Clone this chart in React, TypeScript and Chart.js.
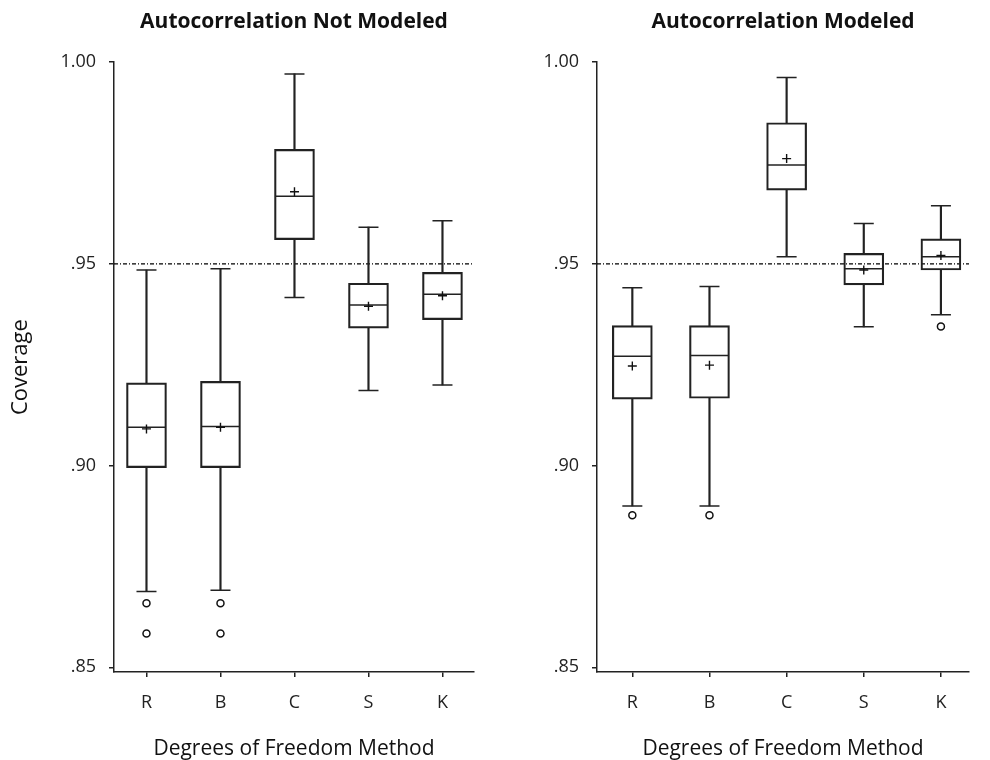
import React, { useEffect, useRef } from "react";
import { Chart, registerables } from "chart.js";
Chart.register(...registerables);

const methods = ["R", "B", "C", "S", "K"];
const yTickValues = [0.85, 0.9, 0.95, 1.0];
const yTickLabels = [".85", ".90", ".95", "1.00"];
const referenceCoverage = 0.95;
const xTitle = "Degrees of Freedom Method";
const yTitle = "Coverage";

// Autocorrelation Not Modeled
const nmTitle = "Autocorrelation Not Modeled";
const nmLower = [0.8688, 0.8691, 0.9417, 0.9186, 0.92];
const nmQ1 = [0.8995, 0.8995, 0.956, 0.9341, 0.9362];
const nmMedian = [0.9095, 0.9097, 0.9668, 0.9398, 0.9425];
const nmQ3 = [0.9205, 0.9209, 0.9784, 0.9452, 0.9479];
const nmUpper = [0.9485, 0.9488, 0.9971, 0.9591, 0.9607];
const nmMean = [0.9091, 0.9095, 0.9679, 0.9395, 0.9421];
const nmOutliers = [[0.8659, 0.8584], [0.8659, 0.8584], [], [], []];

// Autocorrelation Modeled
const mTitle = "Autocorrelation Modeled";
const mLower = [0.89, 0.89, 0.9518, 0.9344, 0.9374];
const mQ1 = [0.9165, 0.9167, 0.9683, 0.9448, 0.9485];
const mMedian = [0.9271, 0.9273, 0.9745, 0.9488, 0.9518];
const mQ3 = [0.9347, 0.9347, 0.985, 0.9526, 0.9562];
const mUpper = [0.9441, 0.9444, 0.9962, 0.96, 0.9644];
const mMean = [0.9247, 0.9249, 0.9761, 0.9485, 0.9521];
const mOutliers = [[0.8877], [0.8877], [], [], [0.9345]];

const FONT = "'Open Sans', 'Noto Sans', sans-serif";
const INK = "#222";

type PanelProps = {
  title: string;
  lower: number[];
  q1: number[];
  median: number[];
  q3: number[];
  upper: number[];
  mean: number[];
  outliers: number[][];
  xMin: number;
  xMax: number;
  yAxisWidth: number;
  padRight: number;
  showYTitle: boolean;
};

function Panel(p: PanelProps) {
  const ref = useRef<HTMLCanvasElement | null>(null);
  useEffect(() => {
    if (!ref.current) return;
    const pts = (vals: number[]) => vals.map((v, i) => ({ x: i + 1, y: v }));
    const ranges = (a: number[], b: number[]) => a.map((v, i) => ({ x: i + 1, y: [v, b[i]] }));
    const outlierPts: { x: number; y: number }[] = [];
    p.outliers.forEach((arr, i) => arr.forEach((v) => outlierPts.push({ x: i + 1, y: v })));
    const yMin = 0.84884;
    const yMax = 1.0;

    const chart = new Chart(ref.current, {
      type: "bar",
      data: {
        datasets: [
          {
            type: "line",
            data: [
              { x: p.xMin, y: referenceCoverage },
              { x: p.xMax, y: referenceCoverage },
            ],
            borderColor: "#000",
            borderWidth: 1.3,
            borderDash: [4, 2, 1, 2],
            pointRadius: 0,
            order: 10,
          } as any,
          {
            type: "bar",
            data: ranges(p.lower, p.q1),
            backgroundColor: INK,
            borderWidth: 0,
            barThickness: 1.5,
            grouped: false,
            order: 5,
          } as any,
          {
            type: "bar",
            data: ranges(p.q3, p.upper),
            backgroundColor: INK,
            borderWidth: 0,
            barThickness: 1.5,
            grouped: false,
            order: 5,
          } as any,
          {
            type: "bar",
            data: ranges(p.q1, p.q3),
            backgroundColor: "rgba(0,0,0,0)",
            borderColor: INK,
            borderWidth: 1.5,
            borderSkipped: false,
            barThickness: 40,
            grouped: false,
            order: 4,
          } as any,
          {
            type: "scatter",
            data: [...pts(p.lower), ...pts(p.upper)],
            pointStyle: "line",
            pointRadius: 10,
            borderWidth: 1.5,
            borderColor: INK,
            order: 3,
          } as any,
          {
            type: "scatter",
            data: pts(p.median),
            pointStyle: "line",
            pointRadius: 19.5,
            borderWidth: 1.5,
            borderColor: INK,
            order: 2,
          } as any,
          {
            type: "scatter",
            data: pts(p.mean),
            pointStyle: "cross",
            pointRadius: 4.5,
            borderWidth: 1.4,
            borderColor: "#111",
            order: 1,
          } as any,
          {
            type: "scatter",
            data: outlierPts,
            pointStyle: "circle",
            pointRadius: 3.5,
            borderWidth: 1.5,
            borderColor: "#111",
            backgroundColor: "#fff",
            order: 1,
          } as any,
        ],
      },
      options: {
        responsive: false,
        animation: false,
        events: [],
        layout: { padding: { left: 0, right: p.padRight, top: 0, bottom: 0 } },
        plugins: {
          legend: { display: false },
          tooltip: { enabled: false },
          title: {
            display: true,
            text: p.title,
            fullSize: false,
            color: "#111",
            font: { family: FONT, size: 21, weight: "bold", lineHeight: 1.2 },
            padding: { top: 9, bottom: 28 },
          },
        },
        scales: {
          x: {
            type: "linear",
            min: p.xMin,
            max: p.xMax,
            offset: false,
            afterBuildTicks: (s: any) => {
              s.ticks = methods.map((_, i) => ({ value: i + 1 }));
            },
            afterFit: (s: any) => {
              s.height = 88;
            },
            ticks: {
              autoSkip: false,
              maxRotation: 0,
              color: INK,
              padding: 15,
              font: { family: FONT, size: 18 },
              callback: (v: any) => methods[Math.round(Number(v)) - 1] ?? "",
            },
            grid: {
              display: true,
              offset: false,
              drawOnChartArea: false,
              drawTicks: true,
              tickLength: 5,
              color: INK,
              lineWidth: 1.5,
            },
            border: { display: true, color: INK, width: 1.5 },
            title: {
              display: true,
              text: xTitle,
              color: "#111",
              font: { family: FONT, size: 21, lineHeight: 1 },
              padding: { top: 0, bottom: 0 },
            },
          },
          y: {
            type: "linear",
            min: yMin,
            max: yMax,
            afterBuildTicks: (s: any) => {
              s.ticks = yTickValues.map((v) => ({ value: v }));
            },
            afterFit: (s: any) => {
              s.width = p.yAxisWidth;
            },
            ticks: {
              color: INK,
              padding: 13,
              font: { family: FONT, size: 18 },
              callback: (v: any) => {
                const i = yTickValues.findIndex((t) => Math.abs(t - Number(v)) < 1e-6);
                return i >= 0 ? yTickLabels[i] : "";
              },
            },
            grid: {
              display: true,
              drawOnChartArea: false,
              drawTicks: true,
              tickLength: 5,
              color: INK,
              lineWidth: 1.5,
            },
            border: { display: true, color: INK, width: 1.5 },
            title: {
              display: p.showYTitle,
              text: yTitle,
              color: "#111",
              font: { family: FONT, size: 22, lineHeight: 1.2 },
              padding: { top: 8, bottom: 0 },
            },
          },
        },
      } as any,
    });
    return () => chart.destroy();
  }, []);
  return <canvas ref={ref} width={495} height={760} style={{ display: "block" }} />;
}

export default function App() {
  return (
    <div
      style={{
        position: "fixed",
        left: 0,
        top: 0,
        width: 990,
        height: 760,
        background: "#fff",
        display: "flex",
      }}
    >
      <Panel
        title={nmTitle}
        lower={nmLower}
        q1={nmQ1}
        median={nmMedian}
        q3={nmQ3}
        upper={nmUpper}
        mean={nmMean}
        outliers={nmOutliers}
        xMin={0.561}
        xMax={5.426}
        yAxisWidth={114}
        padRight={4}
        showYTitle={true}
      />
      <Panel
        title={mTitle}
        lower={mLower}
        q1={mQ1}
        median={mMedian}
        q3={mQ3}
        upper={mUpper}
        mean={mMean}
        outliers={mOutliers}
        xMin={0.542}
        xMax={5.364}
        yAxisWidth={102}
        padRight={0}
        showYTitle={false}
      />
    </div>
  );
}
